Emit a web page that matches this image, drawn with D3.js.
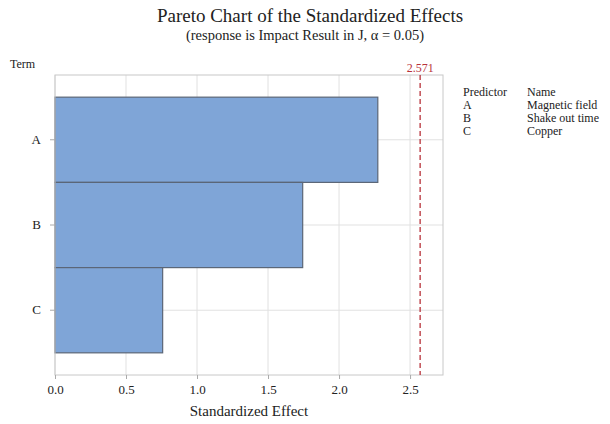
<!DOCTYPE html>
<html>
<head>
<meta charset="utf-8">
<script src="https://cdn.jsdelivr.net/npm/d3@7"></script>
<style>
body{margin:0;background:#fff;}
text{font-family:"Liberation Serif","Times New Roman",serif;}
</style>
</head>
<body>
<div id="chart"></div>
<script>
var terms=["A","B","C"];
var effects=[2.273,1.744,0.758];
var names=["Magnetic field","Shake out time","Copper"];
var xticks=[0.0,0.5,1.0,1.5,2.0,2.5];
var critical=2.571;

var width=610,height=424;
var plotLeft=55,plotTop=75,plotRight=443,plotBottom=375;

var svg=d3.select("#chart").append("svg")
	.attr("width",width)
	.attr("height",height);

var x=d3.scaleLinear().domain([0,2.732]).range([plotLeft,plotRight]);
var y=d3.scaleBand().domain(terms).range([plotTop,plotBottom]).paddingInner(0).paddingOuter(0.26);

// grid
svg.append("g").selectAll("line")
	.data(xticks).enter().append("line")
	.attr("x1",function(d){return x(d);}).attr("x2",function(d){return x(d);})
	.attr("y1",plotTop).attr("y2",plotBottom)
	.attr("stroke","#e1e1e1").attr("stroke-width",1);
svg.append("g").selectAll("line")
	.data(terms).enter().append("line")
	.attr("x1",plotLeft).attr("x2",plotRight)
	.attr("y1",function(d){return y(d)+y.bandwidth()/2;})
	.attr("y2",function(d){return y(d)+y.bandwidth()/2;})
	.attr("stroke","#e1e1e1").attr("stroke-width",1);

// bars
svg.append("g").selectAll("rect")
	.data(effects).enter().append("rect")
	.attr("x",x(0))
	.attr("y",function(d,i){return y(terms[i]);})
	.attr("width",function(d){return x(d)-x(0);})
	.attr("height",y.bandwidth())
	.attr("fill","#7fa5d7")
	.attr("stroke","#5b6677")
	.attr("stroke-width",1.2);

// frame
svg.append("rect")
	.attr("x",plotLeft).attr("y",plotTop)
	.attr("width",plotRight-plotLeft).attr("height",plotBottom-plotTop)
	.attr("fill","none").attr("stroke","#c8c8c8").attr("stroke-width",1);

// reference line
svg.append("line")
	.attr("x1",x(critical)).attr("x2",x(critical))
	.attr("y1",plotTop).attr("y2",plotBottom)
	.attr("stroke","#b8323a").attr("stroke-width",1.3)
	.attr("stroke-dasharray","5,3");
svg.append("text")
	.attr("x",x(critical)).attr("y",plotTop-3)
	.attr("text-anchor","middle")
	.attr("font-size",12).attr("fill","#b8323a")
	.text(d3.format(".3f")(critical));

// axes
var xAxis=svg.append("g")
	.attr("transform","translate(0,"+plotBottom+")")
	.call(d3.axisBottom(x).tickValues(xticks).tickFormat(d3.format(".1f")).tickSize(4).tickPadding(6));
var yAxis=svg.append("g")
	.attr("transform","translate("+plotLeft+",0)")
	.call(d3.axisLeft(y).tickSize(5).tickPadding(9));
[xAxis,yAxis].forEach(function(a){
	a.select(".domain").remove();
	a.selectAll("line").attr("stroke","#aaa");
	a.selectAll("text").attr("font-family","Liberation Serif, serif").attr("font-size",13).attr("fill","#222");
});

// titles
svg.append("text").attr("x",310).attr("y",22).attr("text-anchor","middle")
	.attr("font-size",19).attr("fill","#222").text("Pareto Chart of the Standardized Effects");
svg.append("text").attr("x",305).attr("y",40).attr("text-anchor","middle")
	.attr("font-size",14.5).attr("fill","#222").text("(response is Impact Result in J, \u03b1 = 0.05)");
svg.append("text").attr("x",10).attr("y",68)
	.attr("font-size",12).attr("fill","#222").text("Term");
svg.append("text").attr("x",249).attr("y",416).attr("text-anchor","middle")
	.attr("font-size",15).attr("fill","#222").text("Standardized Effect");

// legend table
var lg=svg.append("g").attr("font-size",12).attr("fill","#222");
lg.append("text").attr("x",463).attr("y",96).text("Predictor");
lg.append("text").attr("x",527).attr("y",96).text("Name");
lg.selectAll("text.t").data(terms).enter().append("text").attr("class","t")
	.attr("x",463).attr("y",function(d,i){return 109+i*13;}).text(function(d){return d;});
lg.selectAll("text.n").data(names).enter().append("text").attr("class","n")
	.attr("x",527).attr("y",function(d,i){return 109+i*13;}).text(function(d){return d;});
</script>
</body>
</html>
